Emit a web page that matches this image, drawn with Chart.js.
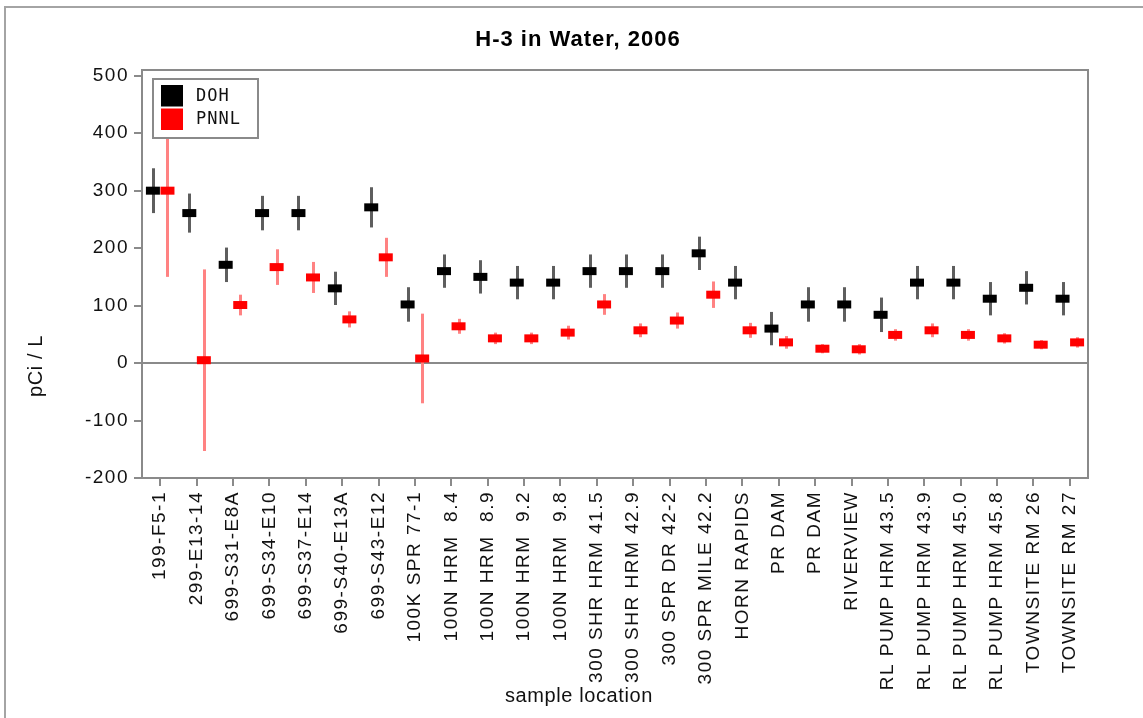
<!DOCTYPE html>
<html>
<head>
<meta charset="utf-8">
<title>H-3 in Water, 2006</title>
<script src="https://cdn.jsdelivr.net/npm/chart.js@4.4.1/dist/chart.umd.min.js"></script>
<style>
  html, body { margin: 0; padding: 0; background: #fff; }
  #wrap { width: 1143px; height: 718px; position: relative; }
</style>
</head>
<body>
<div id="wrap"><canvas id="chart"></canvas></div>
<script>
// Sample locations along the x axis
const categories = [
  '199-F5-1', '299-E13-14', '699-S31-E8A', '699-S34-E10', '699-S37-E14',
  '699-S40-E13A', '699-S43-E12', '100K SPR 77-1', '100N HRM  8.4', '100N HRM  8.9',
  '100N HRM  9.2', '100N HRM  9.8', '300 SHR HRM 41.5', '300 SHR HRM 42.9',
  '300 SPR DR 42-2', '300 SPR MILE 42.2', 'HORN RAPIDS', 'PR DAM', 'PR DAM',
  'RIVERVIEW', 'RL PUMP HRM 43.5', 'RL PUMP HRM 43.9', 'RL PUMP HRM 45.0',
  'RL PUMP HRM 45.8', 'TOWNSITE RM 26', 'TOWNSITE RM 27'
];

// Tritium results (pCi/L) and their +/- uncertainties
const dohValues  = [300, 261, 171, 261, 261, 130, 271, 102, 160, 150, 140, 140, 160, 160, 160, 191, 140, 60, 102, 102, 84, 140, 140, 112, 131, 112];
const dohErrors  = [ 39,  34,  30,  30,  30,  29,  35,  30,  29,  29,  29,  29,  29,  29,  29,  29,  29, 29,  30,  30, 30,  29,  29,  29,  29,  29];
const pnnlValues = [300,   5, 101, 167, 149,  76, 184,   8,  64,  43,  43,  53, 102,  57,  74, 119,  57, 36,  25,  24, 49,  57,  49,  43,  32,  36];
const pnnlErrors = [150, 158,  18,  31,  27,  14,  34,  78,  13,  10,  10,  12,  18,  12,  14,  23,  13, 11,   8,   9, 10,  12,  10,   9,   8,   9];

const yTickValues = [-200, -100, 0, 100, 200, 300, 400, 500];

const seriesLabels = ['DOH', 'PNNL'];
const seriesShift = 0.2;   // side-by-side offset of the two labs within a location

const AXIS_GREY = '#8a8a8a';
const TEXT_FONT = '"Liberation Sans", Arial, sans-serif';

function toPoints(values, shift) {
  return values.map((v, i) => ({ x: i + shift, y: v }));
}

// Slightly spaced lettering for the axis tick labels
const tickSpacing = {
  id: 'tickSpacing',
  beforeDraw(chart) { chart.ctx.letterSpacing = '1.5px'; },
  beforeDatasetsDraw(chart) { chart.ctx.letterSpacing = '0px'; }
};

// Vertical uncertainty bars, drawn beneath the result markers
const errorBars = {
  id: 'errorBars',
  beforeDatasetsDraw(chart) {
    const { ctx } = chart;
    const yScale = chart.scales.y;
    ctx.save();
    ctx.lineCap = 'butt';
    chart.data.datasets.forEach((ds, di) => {
      const meta = chart.getDatasetMeta(di);
      ctx.strokeStyle = ds.errorColor;
      ctx.lineWidth = 3;
      meta.data.forEach((pt, j) => {
        const v = ds.data[j].y;
        const e = ds.errors[j];
        const x = Math.round(pt.x) + 0.5;
        ctx.beginPath();
        ctx.moveTo(x, yScale.getPixelForValue(v + e));
        ctx.lineTo(x, yScale.getPixelForValue(v - e));
        ctx.stroke();
      });
    });
    ctx.restore();
  }
};

// Boxed legend placed inside the upper-left corner of the plot
const boxLegend = {
  id: 'boxLegend',
  afterDatasetsDraw(chart) {
    const { ctx, chartArea } = chart;
    const left = chartArea.left + 10;
    const top = chartArea.top + 8;
    const width = 107, height = 61;
    ctx.save();
    ctx.fillStyle = '#fff';
    ctx.fillRect(left, top, width, height);
    ctx.strokeStyle = AXIS_GREY;
    ctx.lineWidth = 2;
    ctx.strokeRect(left + 1, top + 1, width - 2, height - 2);
    ctx.font = '17px "DejaVu Sans Mono", monospace';
    ctx.letterSpacing = '1px';
    ctx.textBaseline = 'middle';
    chart.data.datasets.forEach((ds, i) => {
      const sy = top + 7 + i * 23.5;
      ctx.fillStyle = ds.borderColor;
      ctx.fillRect(left + 9, sy, 22, 21.5);
      ctx.fillStyle = '#111';
      ctx.fillText(ds.label, left + 44, sy + 11.5);
    });
    ctx.restore();
  }
};

// Frame, plot border, title and axis titles
const decorations = {
  id: 'decorations',
  afterDraw(chart) {
    const { ctx, chartArea, width, height } = chart;
    ctx.save();
    // outer frame
    ctx.strokeStyle = '#a4a4a4';
    ctx.lineWidth = 2;
    ctx.beginPath();
    ctx.moveTo(5, height);
    ctx.lineTo(5, 7);
    ctx.lineTo(width, 7);
    ctx.stroke();
    // plot border
    ctx.strokeStyle = AXIS_GREY;
    ctx.strokeRect(chartArea.left, chartArea.top, chartArea.right - chartArea.left, chartArea.bottom - chartArea.top);
    // title
    ctx.fillStyle = '#000';
    ctx.textAlign = 'center';
    ctx.textBaseline = 'middle';
    ctx.font = 'bold 22px ' + TEXT_FONT;
    ctx.letterSpacing = '1px';
    ctx.fillText('H-3 in Water, 2006', 578, 40);
    // x axis title
    ctx.font = '20px ' + TEXT_FONT;
    ctx.letterSpacing = '0.6px';
    ctx.fillStyle = '#111';
    ctx.fillText('sample location', 579, 696);
    // y axis title
    ctx.translate(36, 366);
    ctx.rotate(-Math.PI / 2);
    ctx.fillText('pCi / L', 0, 0);
    ctx.restore();
  }
};

new Chart(document.getElementById('chart'), {
  type: 'scatter',
  data: {
    datasets: [
      {
        label: seriesLabels[0],
        data: toPoints(dohValues, -seriesShift),
        errors: dohErrors,
        errorColor: '#5e5e5e',
        borderColor: '#000000',
        backgroundColor: '#000000',
        pointStyle: 'line',
        pointRadius: 7,
        pointHoverRadius: 7,
        pointBorderWidth: 8,
        pointHoverBorderWidth: 8
      },
      {
        label: seriesLabels[1],
        data: toPoints(pnnlValues, seriesShift),
        errors: pnnlErrors,
        errorColor: '#ff8282',
        borderColor: '#ff0000',
        backgroundColor: '#ff0000',
        pointStyle: 'line',
        pointRadius: 7,
        pointHoverRadius: 7,
        pointBorderWidth: 8,
        pointHoverBorderWidth: 8
      }
    ]
  },
  options: {
    responsive: true,
    maintainAspectRatio: false,
    animation: false,
    events: [],
    layout: { padding: { top: 70, right: 55, left: 0, bottom: 0 } },
    plugins: {
      legend: { display: false },
      title: { display: false },
      tooltip: { enabled: false }
    },
    scales: {
      x: {
        type: 'linear',
        min: -0.5,
        max: categories.length - 0.5,
        afterBuildTicks(scale) { scale.ticks = categories.map((c, i) => ({ value: i })); },
        afterFit(scale) { scale.height = 240; },
        ticks: {
          autoSkip: false,
          minRotation: 90,
          maxRotation: 90,
          padding: 5,
          color: '#111',
          font: { family: TEXT_FONT, size: 19 },
          callback: (v) => categories[v]
        },
        grid: { drawOnChartArea: false, drawTicks: true, tickLength: 8, color: AXIS_GREY, lineWidth: 2 },
        border: { display: false }
      },
      y: {
        min: -200,
        max: 510,
        afterBuildTicks(scale) { scale.ticks = yTickValues.map(v => ({ value: v })); },
        afterFit(scale) { scale.width = 142; },
        ticks: {
          padding: 5,
          color: '#111',
          font: { family: TEXT_FONT, size: 19 }
        },
        grid: {
          drawTicks: true,
          tickLength: 8,
          lineWidth: 2,
          tickColor: AXIS_GREY,
          color: (c) => (c.tick && c.tick.value === 0 ? AXIS_GREY : 'rgba(0,0,0,0)')
        },
        border: { display: false }
      }
    }
  },
  plugins: [tickSpacing, errorBars, boxLegend, decorations]
});
</script>
</body>
</html>
